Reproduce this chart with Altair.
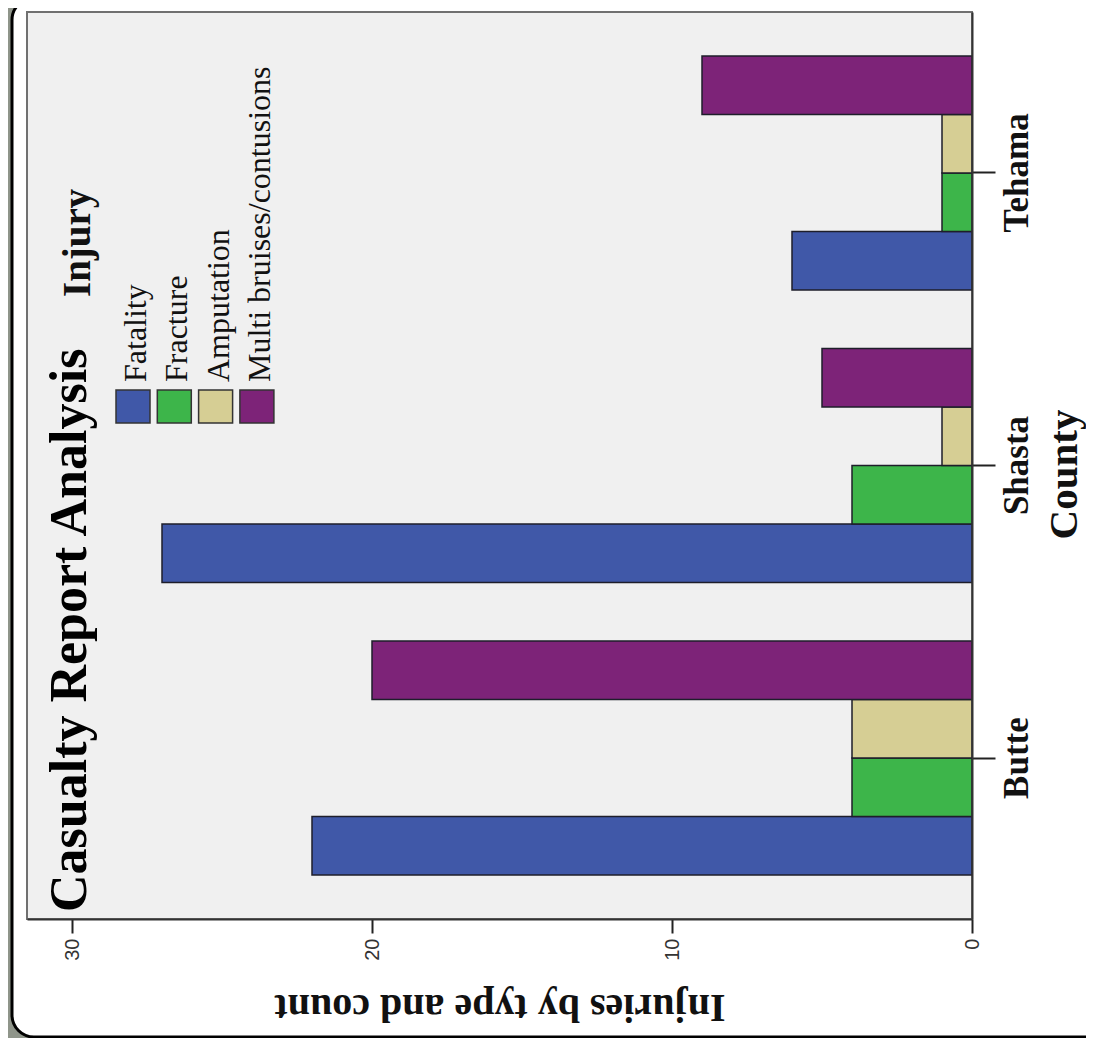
import altair as alt
import pandas as pd

counties = ["Butte", "Shasta", "Tehama"]
injuries = ["Fatality", "Fracture", "Amputation", "Multi bruises/contusions"]
fatality = [22, 27, 6]
fracture = [4, 4, 1]
amputation = [4, 1, 1]
multi = [20, 5, 9]
colors = ["#4058a8", "#3db54a", "#d6ce94", "#7d2378"]
value_ticks = [0, 10, 20, 30]
title_text = "Casualty Report Analysis"
legend_title = "Injury"

rows = []
for series, vals in zip(injuries, [fatality, fracture, amputation, multi]):
    for c, v in zip(counties, vals):
        rows.append({"County": c, "Injury": series, "Count": v})
df = pd.DataFrame(rows)

W, H = 945, 907
color_scale = alt.Scale(domain=injuries, range=colors)
one = pd.DataFrame({"a": [0]})

frame = alt.Chart(one).mark_rect(
    fill="white", stroke="black", strokeWidth=3, cornerRadius=22
).encode(x=alt.value(-15), x2=alt.value(1300), y=alt.value(-14), y2=alt.value(1025))

plotbg = alt.Chart(one).mark_rect(
    fill="#f0f0f0", stroke="#707070", strokeWidth=2
).encode(x=alt.value(0), x2=alt.value(W), y=alt.value(0), y2=alt.value(H))

bars = alt.Chart(df).mark_bar(stroke="#1e1e2a", strokeWidth=1.5).encode(
    x=alt.X(
        "Count:Q",
        scale=alt.Scale(domain=[0, 31.5], reverse=True, nice=False, zero=True),
        axis=alt.Axis(
            values=value_ticks, labelAngle=270, labelAlign="right", labelBaseline="middle",
            labelFont="Liberation Sans", labelFontSize=20, labelColor="#333",
            tickSize=14, tickColor="#222", tickWidth=2, labelPadding=5,
            domainColor="#333", domainWidth=2, grid=False,
            title="Injuries by type and count", titleAngle=180, titleFont="Liberation Serif",
            titleFontWeight="bold", titleFontSize=40, titleColor="#111",
            titleX=W / 2, titleY=75, titleBaseline="alphabetic", titleAlign="center",
            zindex=1,
        ),
    ),
    y=alt.Y(
        "County:N",
        sort=counties[::-1],
        scale=alt.Scale(paddingInner=0.2, paddingOuter=0.15),
        axis=alt.Axis(
            orient="right", labelAngle=270, labelAlign="center", labelBaseline="top",
            labelFont="Liberation Serif", labelFontWeight="bold", labelFontSize=35,
            labelColor="#111", tickSize=23, tickColor="#222", tickWidth=2, labelPadding=4,
            domainColor="#333", domainWidth=2, grid=False,
            title="County", titleAngle=270, titleFont="Liberation Serif",
            titleFontWeight="bold", titleFontSize=41, titleColor="#111",
            titleX=104, titleY=462, titleBaseline="alphabetic", titleAlign="center",
            zindex=1,
        ),
    ),
    yOffset=alt.YOffset("Injury:N", sort=injuries[::-1],
                        scale=alt.Scale(paddingInner=0, paddingOuter=0)),
    color=alt.Color("Injury:N", scale=color_scale, legend=None),
)

leg = pd.DataFrame({"Injury": injuries, "idx": list(range(len(injuries)))})

leg_rects = alt.Chart(leg).transform_calculate(
    x0="89 + 41.3*datum.idx", x1="89 + 41.3*datum.idx + 34"
).mark_rect(stroke="#333", strokeWidth=1.5).encode(
    x=alt.X("x0:Q", scale=None, axis=None),
    x2="x1:Q",
    y=alt.value(378),
    y2=alt.value(411),
    color=alt.Color("Injury:N", scale=color_scale, legend=None),
)

leg_text = alt.Chart(leg).transform_calculate(
    tx="119 + 41.3*datum.idx"
).mark_text(
    angle=270, align="left", baseline="alphabetic", font="Liberation Serif",
    fontSize=32, color="#111"
).encode(
    x=alt.X("tx:Q", scale=None, axis=None),
    y=alt.value(370),
    text="Injury:N",
)

leg_title = alt.Chart(one).mark_text(
    angle=270, align="left", baseline="alphabetic", font="Liberation Serif",
    fontSize=39, fontWeight="bold", color="#111"
).encode(x=alt.value(63), y=alt.value(285), text=alt.value(legend_title))

title = alt.Chart(one).mark_text(
    angle=270, align="left", baseline="alphabetic", font="Liberation Serif",
    fontSize=52, fontWeight="bold", color="#000"
).encode(x=alt.value(59), y=alt.value(900), text=alt.value(title_text))

chart = alt.layer(frame, plotbg, bars, leg_rects, leg_text, leg_title, title).properties(
    width=W,
    height=H,
    padding={"left": 19, "top": 4, "right": 114, "bottom": 119},
    autosize=alt.AutoSizeParams(type="none"),
    background="#8f958a",
).configure_view(stroke=None)

chart.save("out.html", embed_options={"renderer": "svg", "actions": False})
